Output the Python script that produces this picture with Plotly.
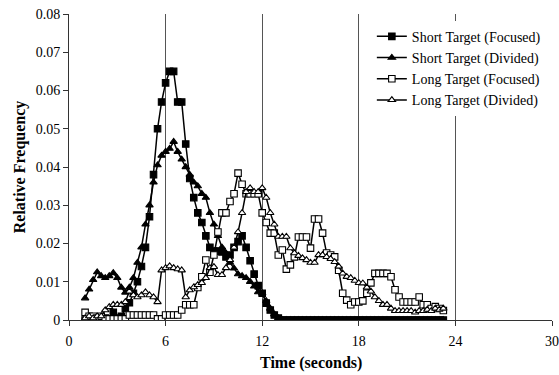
import plotly.graph_objects as go

time_s = [1.0, 1.25, 1.5, 1.75, 2.0, 2.25, 2.5, 2.75, 3.0, 3.25, 3.5, 3.75, 4.0, 4.25, 4.5, 4.75,
          5.0, 5.25, 5.5, 5.75, 6.0, 6.25, 6.5, 6.75, 7.0, 7.25, 7.5, 7.75, 8.0, 8.25, 8.5, 8.75,
          9.0, 9.25, 9.5, 9.75, 10.0, 10.25, 10.5, 10.75, 11.0, 11.25, 11.5, 11.75, 12.0, 12.25,
          12.5, 12.75, 13.0, 13.25, 13.5, 13.75, 14.0, 14.25, 14.5, 14.75, 15.0, 15.25, 15.5,
          15.75, 16.0, 16.25, 16.5, 16.75, 17.0, 17.25, 17.5, 17.75, 18.0, 18.25, 18.5, 18.75,
          19.0, 19.25, 19.5, 19.75, 20.0, 20.25, 20.5, 20.75, 21.0, 21.25, 21.5, 21.75, 22.0,
          22.25, 22.5, 22.75, 23.0, 23.25]

short_focused = [0.000, 0.0005, 0.000, 0.0005, 0.000, 0.0005, 0.000, 0.002, 0.0005, 0.001,
                 0.003, 0.0045, 0.007, 0.010, 0.014, 0.019, 0.027, 0.038, 0.050, 0.057, 0.062,
                 0.065, 0.065, 0.057, 0.057, 0.046, 0.037, 0.032, 0.028, 0.0255, 0.022, 0.019,
                 0.018, 0.018, 0.0178, 0.0165, 0.017, 0.019, 0.0205, 0.022, 0.019, 0.0155,
                 0.012, 0.009, 0.007, 0.0044, 0.0026, 0.0013, 0.0005,
                 0, 0, 0, 0, 0, 0, 0, 0, 0, 0, 0, 0, 0, 0, 0, 0, 0, 0, 0, 0, 0, 0, 0, 0, 0,
                 0, 0, 0, 0, 0, 0, 0, 0, 0, 0, 0, 0, 0, 0, 0, 0, 0]

short_divided = [0.0057, 0.008, 0.0105, 0.0125, 0.0115, 0.011, 0.0115, 0.0123, 0.011, 0.0085,
                 0.0072, 0.0085, 0.011, 0.015, 0.019, 0.025, 0.030, 0.036, 0.0405, 0.043, 0.044,
                 0.0448, 0.0466, 0.044, 0.042, 0.040, 0.038, 0.036, 0.035, 0.033, 0.032, 0.028,
                 0.025, 0.022, 0.019, 0.0175, 0.015, 0.0135, 0.012, 0.0115, 0.011, 0.010,
                 0.0088, 0.0073, 0.007, 0.005, 0.003, 0.0015, 0.0005,
                 0, 0, 0, 0, 0, 0, 0, 0, 0, 0, 0, 0, 0, 0, 0, 0, 0, 0, 0, 0, 0, 0, 0, 0, 0,
                 0, 0, 0, 0, 0, 0, 0, 0, 0, 0, 0, 0, 0, 0, 0, 0, 0]

long_focused = [0.002, 0.001, 0.001, 0.0005, 0.001, 0.0003, 0.0003, 0.0003, 0.0003, 0.0003,
                0.0003, 0.0013, 0.0013, 0.0013, 0.0013, 0.0013, 0.0013, 0.0013, 0.0003, 0.0003,
                0.0013, 0.0013, 0.0013, 0.0013, 0.0026, 0.004, 0.004, 0.004, 0.0085, 0.0113,
                0.0157, 0.0125, 0.017, 0.023, 0.028, 0.028, 0.031, 0.033, 0.0384, 0.0355, 0.033,
                0.033, 0.033, 0.033, 0.028, 0.0255, 0.0227, 0.0227, 0.017, 0.0183, 0.0133,
                0.0144, 0.0165, 0.0217, 0.0217, 0.0217, 0.0188, 0.0264, 0.0264, 0.0227, 0.0175,
                0.017, 0.0165, 0.013, 0.007, 0.0052, 0.004, 0.0047, 0.0047, 0.005, 0.007,
                0.0097, 0.0122, 0.0122, 0.0122, 0.0122, 0.0113, 0.0079, 0.006, 0.0047, 0.0047,
                0.0047, 0.0047, 0.006, 0.004, 0.004, 0.003, 0.0035, 0.003, 0.0025]

long_divided = [0.0005, 0.001, 0.0005, 0.001, 0.001, 0.0026, 0.0034, 0.004, 0.004, 0.004,
                0.0047, 0.0075, 0.0065, 0.006, 0.0065, 0.0073, 0.0065, 0.006, 0.0047, 0.013,
                0.0136, 0.0141, 0.0136, 0.0133, 0.013, 0.006, 0.0078, 0.0086, 0.0092, 0.0097,
                0.011, 0.0136, 0.0139, 0.0118, 0.0118, 0.0136, 0.0157, 0.019, 0.023, 0.028,
                0.0335, 0.0345, 0.0335, 0.0335, 0.0345, 0.032, 0.028, 0.025, 0.0218, 0.0218,
                0.0218, 0.0188, 0.0175, 0.0168, 0.0162, 0.0157, 0.015, 0.015, 0.017, 0.017,
                0.0165, 0.016, 0.0152, 0.014, 0.0122, 0.0113, 0.011, 0.0103, 0.0097, 0.0096,
                0.0085, 0.0075, 0.006, 0.005, 0.004, 0.004, 0.003, 0.0024, 0.0024, 0.0024,
                0.0024, 0.0024, 0.002, 0.0024, 0.0024, 0.0027, 0.0024, 0.003, 0.0027, 0.003]

x_ticks = [0, 6, 12, 18, 24, 30]
y_ticks = [0, 0.01, 0.02, 0.03, 0.04, 0.05, 0.06, 0.07, 0.08]
y_tick_text = ["0", "0.01", "0.02", "0.03", "0.04", "0.05", "0.06", "0.07", "0.08"]

series = [
    ("Short Target (Focused)", short_focused, "square", "black"),
    ("Short Target (Divided)", short_divided, "triangle-up", "black"),
    ("Long Target (Focused)", long_focused, "square", "white"),
    ("Long Target (Divided)", long_divided, "triangle-up", "white"),
]

FONT = "Liberation Serif, Times New Roman, serif"

fig = go.Figure()
for name, vals, sym, fill in series:
    fig.add_trace(go.Scatter(
        x=time_s, y=vals, name=name, mode="lines+markers",
        line=dict(color="black", width=1.5),
        marker=dict(symbol=sym, size=6.5, color=fill, line=dict(color="black", width=1.1)),
    ))

fig.update_layout(
    width=559, height=375,
    margin=dict(l=69, r=7, t=14, b=55),
    paper_bgcolor="white", plot_bgcolor="white",
    font=dict(family=FONT, size=14, color="black"),
    showlegend=True,
    legend=dict(x=0.627, y=0.978, xanchor="left", yanchor="top",
                bgcolor="white", borderwidth=0, font=dict(family=FONT, size=14),
                itemwidth=30, tracegroupgap=0),
    xaxis=dict(range=[0, 30], tickvals=x_ticks, showgrid=True, gridcolor="#555555",
               gridwidth=1, showline=True, linecolor="#333333", linewidth=1,
               ticks="outside", ticklen=5, tickcolor="#333333", zeroline=False,
               ticklabeloverflow="allow", automargin=False, ticklabelstandoff=3,
               tickfont=dict(family=FONT, size=14)),
    yaxis=dict(range=[0, 0.08], tickvals=y_ticks, ticktext=y_tick_text, showgrid=False,
               showline=True, linecolor="#333333", linewidth=1, ticks="outside", ticklen=5,
               tickcolor="#333333", zeroline=False, tickfont=dict(family=FONT, size=14),
               automargin=False,
               title=dict(text="<b>Relative Frequency</b>", font=dict(family=FONT, size=16), standoff=6)),
    annotations=[dict(text="<b>Time (seconds)</b>", xref="paper", yref="paper",
                      x=0.5, y=-0.14, xanchor="center", yanchor="middle",
                      showarrow=False, font=dict(family=FONT, size=16))],
)

fig.write_html("out.html")
